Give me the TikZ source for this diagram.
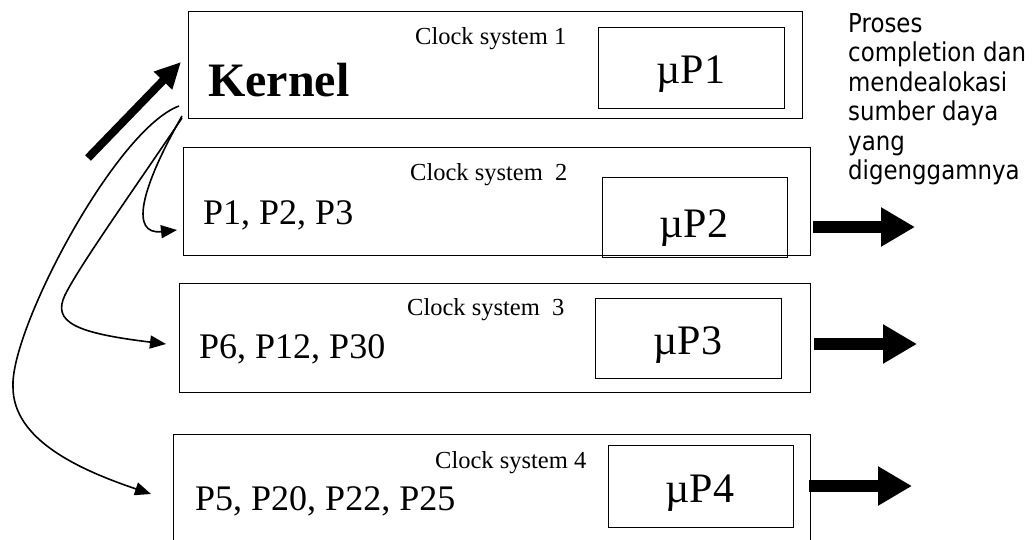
\documentclass[tikz,border=0pt]{standalone}
\usepackage{fontspec}
\setmainfont{Liberation Serif}
\newfontfamily\sidefont[FakeStretch=0.88]{DejaVu Sans}
\usetikzlibrary{arrows.meta}

\begin{document}
\begin{tikzpicture}[x=1pt,y=-1pt,
  frame/.style={draw, line width=1.4pt, inner sep=0pt, anchor=north west},
  clk/.style={anchor=base west, inner sep=0pt, font=\fontsize{24.5}{24.5}\selectfont},
  kern/.style={anchor=base west, inner sep=0pt, font=\fontsize{48}{48}\selectfont\bfseries},
  plist/.style={anchor=base west, inner sep=0pt, font=\fontsize{36}{36}\selectfont},
  mu/.style={anchor=base, inner sep=0pt, font=\fontsize{42}{42}\selectfont},
  thin arrow/.style={line width=1.6pt, -{Triangle[length=16pt,width=13pt]}},
  block arrow/.style={line width=12pt, -{Triangle[length=34pt,width=37pt]}},
  kernel arrow/.style={line width=8pt, -{Triangle[length=26pt,width=24pt]}}]

\useasboundingbox (0,0) rectangle (1035,540);
\clip (0,0) rectangle (1035,540);

% clock system frames
\node[frame, minimum width=614pt, minimum height=107pt] (k1) at (188,11) {};
\node[frame, minimum width=627pt, minimum height=108pt] (k2) at (183,147) {};
\node[frame, minimum width=631pt, minimum height=109pt] (k3) at (179,283) {};
\node[frame, minimum width=637pt, minimum height=120pt] (k4) at (173,434) {};

% processor boxes
\node[frame, minimum width=186pt, minimum height=81pt] (m1) at (598,27) {};
\node[frame, minimum width=185pt, minimum height=80pt] (m2) at (602,177) {};
\node[frame, minimum width=186pt, minimum height=80pt] (m3) at (595,298) {};
\node[frame, minimum width=185pt, minimum height=82pt] (m4) at (608,445) {};

% labels
\node[clk] (c1) at (415,45) {Clock system 1};
\node[kern] (kn) at (208,97) {Kernel};
\node[mu] (u1) at (691,84) {µP1};
\node[clk] (c2) at (410,180) {Clock system~ 2};
\node[plist] (p2) at (203,224) {P1, P2, P3};
\node[mu] (u2) at (694,237) {µP2};
\node[clk] (c3) at (407,315) {Clock system~ 3};
\node[plist] (p3) at (199,358) {P6, P12, P30};
\node[mu] (u3) at (688,354) {µP3};
\node[clk] (c4) at (435,468) {Clock system 4};
\node[plist] (p4) at (195,510) {P5, P20, P22, P25};
\node[mu] (u4) at (700,502) {µP4};

\node[anchor=north west, inner sep=0pt, align=left,
      font=\sidefont\fontsize{26}{29.5}\selectfont] (note) at (848,13)
  {Proses\\completion dan\\mendealokasi\\sumber daya\\yang\\digenggamnya};

% kernel arrow
\coordinate (kt) at (88,158);
\coordinate (kh) at (181,62);
\draw[kernel arrow] (kt) -- (kh);

% dispatch curves
\coordinate (s1) at (182,116);
\coordinate (s2) at (182,118);
\coordinate (s3) at (179,106);
\coordinate (e2) at (177,230);
\coordinate (e3) at (166,344);
\coordinate (e4) at (151,494);
\draw[thin arrow] (s1) .. controls (140,190) and (130,235) .. (e2);
\draw[thin arrow] (s2) .. controls (130,195) and (80,265) .. (65,295)
                       .. controls (52,322) and (75,333) .. (e3);
\draw[thin arrow] (s3) .. controls (115,130) and (10,330) .. (13,387)
                       .. controls (13,440) and (80,470) .. (e4);

% completion arrows
\coordinate (o2) at (915,227);
\coordinate (o3) at (917,344);
\coordinate (o4) at (912,486);
\draw[block arrow] (k2.east |- o2) ++(2,0) coordinate (a2) -- (o2);
\draw[block arrow] (k3.east |- o3) ++(3,0) coordinate (a3) -- (o3);
\draw[block arrow] (k4.east |- o4) ++(-2,0) coordinate (a4) -- (o4);
\end{tikzpicture}
\end{document}
